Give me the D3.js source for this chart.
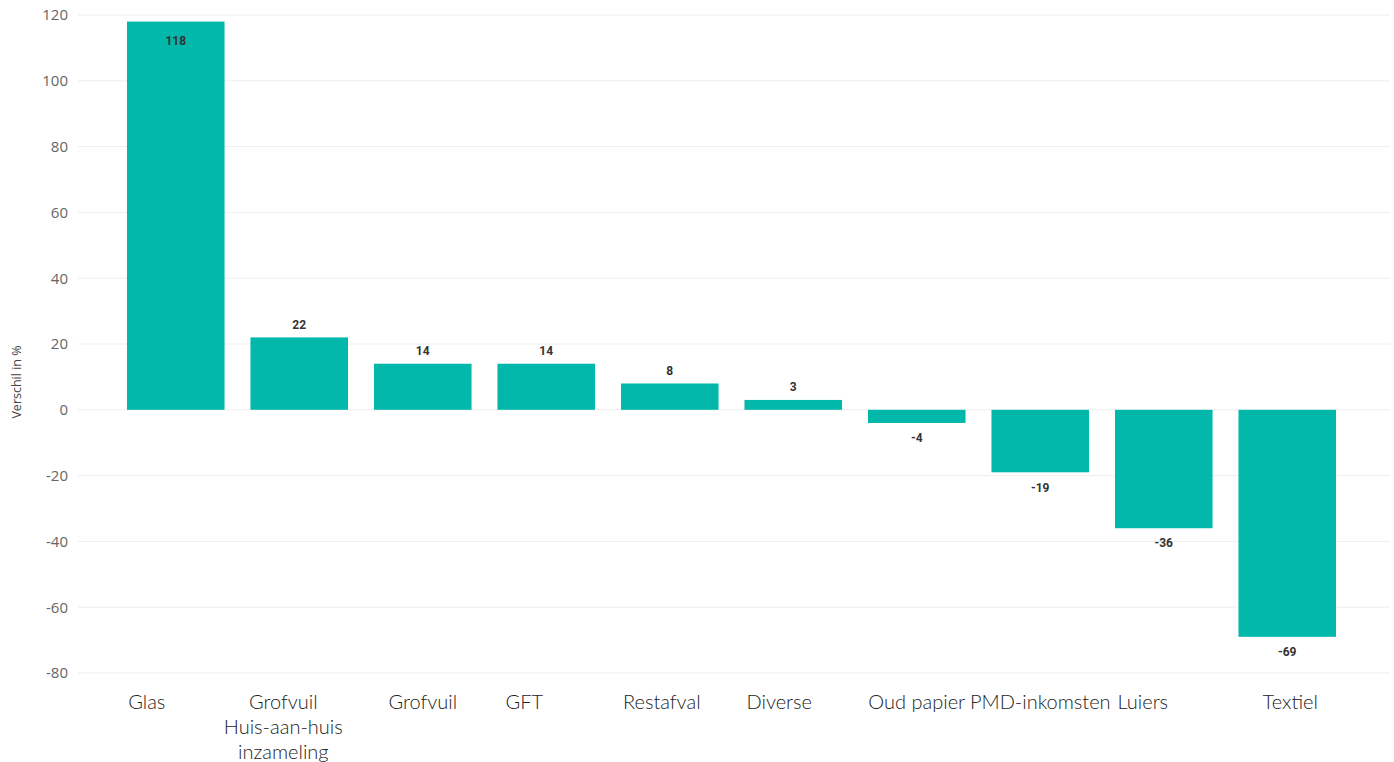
<!DOCTYPE html>
<html><head><meta charset="utf-8">
<script src="https://cdn.jsdelivr.net/npm/d3@7"></script>
<style>
html,body{margin:0;padding:0;background:#fff;}
svg{display:block;}
</style></head>
<body>
<svg id="chart" width="1394" height="762"></svg>
<script>
const categories = ["Glas", "Grofvuil\nHuis-aan-huis\ninzameling", "Grofvuil", "GFT", "Restafval", "Diverse", "Oud papier", "PMD-inkomsten", "Luiers", "Textiel"];
const values = [118, 22, 14, 14, 8, 3, -4, -19, -36, -69];
const yTicks = [120, 100, 80, 60, 40, 20, 0, -20, -40, -60, -80];
const yTitle = "Verschil in %";
// horizontal nudge of each category label relative to its bar centre (layout only)
const labelNudge = [-29, -16, 0, -22, -8, -14, 0, 0, -21, 3];

const svg = d3.select("#chart");
const x = d3.scaleBand().domain(categories).range([114, 1349]).paddingInner(0.21).paddingOuter(0.105);
const y = d3.scaleLinear().domain([-80, 120]).range([673, 15]);

// gridlines
svg.append("g").selectAll("line").data(yTicks).join("line")
  .attr("x1", 78).attr("x2", 1390)
  .attr("y1", d => y(d)).attr("y2", d => y(d))
  .attr("stroke", "#eeeeee").attr("stroke-width", 1);

// y axis
const yAxis = d3.axisLeft(y).tickValues(yTicks).tickSize(0).tickPadding(0).tickFormat(d => String(d));
const gy = svg.append("g").attr("transform", "translate(68,0)").call(yAxis);
gy.select(".domain").remove();
gy.selectAll("text").attr("font-family", "'Open Sans', sans-serif").attr("font-size", 15).attr("fill", "#666");

svg.append("text").attr("transform", `translate(21,${382}) rotate(-90)`)
  .attr("text-anchor", "middle").attr("font-family", "'Open Sans', sans-serif")
  .attr("font-size", 12.5).attr("fill", "#444").text(yTitle);

// bars
svg.append("g").selectAll("rect").data(values).join("rect")
  .attr("x", (d, i) => x(categories[i]))
  .attr("width", x.bandwidth())
  .attr("y", d => y(Math.max(0, d)))
  .attr("height", d => Math.abs(y(d) - y(0)))
  .attr("fill", "#01B8AA");

// value labels
svg.append("g").selectAll("text").data(values).join("text")
  .attr("x", (d, i) => x(categories[i]) + x.bandwidth() / 2)
  .attr("y", (d, i) => {
    if (d > 100) return y(d) + 19;
    if (d >= 0) return y(d) - 13;
    return y(d) + 15;
  })
  .attr("dy", "0.35em")
  .attr("text-anchor", "middle")
  .attr("font-family", "'Roboto', sans-serif").attr("font-weight", 700)
  .attr("font-size", 12).attr("fill", "#333")
  .text(d => d);

// x labels
const xl = svg.append("g").selectAll("text").data(categories).join("text")
  .attr("x", (d, i) => x(d) + x.bandwidth() / 2 + labelNudge[i])
  .attr("y", 709)
  .attr("text-anchor", "middle")
  .attr("font-family", "'Lato', sans-serif").attr("font-weight", 300)
  .attr("font-size", 20).attr("fill", "#222");
xl.each(function(d) {
  const t = d3.select(this);
  d.split("\n").forEach((line, i) => {
    t.append("tspan").attr("x", t.attr("x")).attr("dy", i === 0 ? 0 : 25).text(line);
  });
});
</script>
</body></html>
